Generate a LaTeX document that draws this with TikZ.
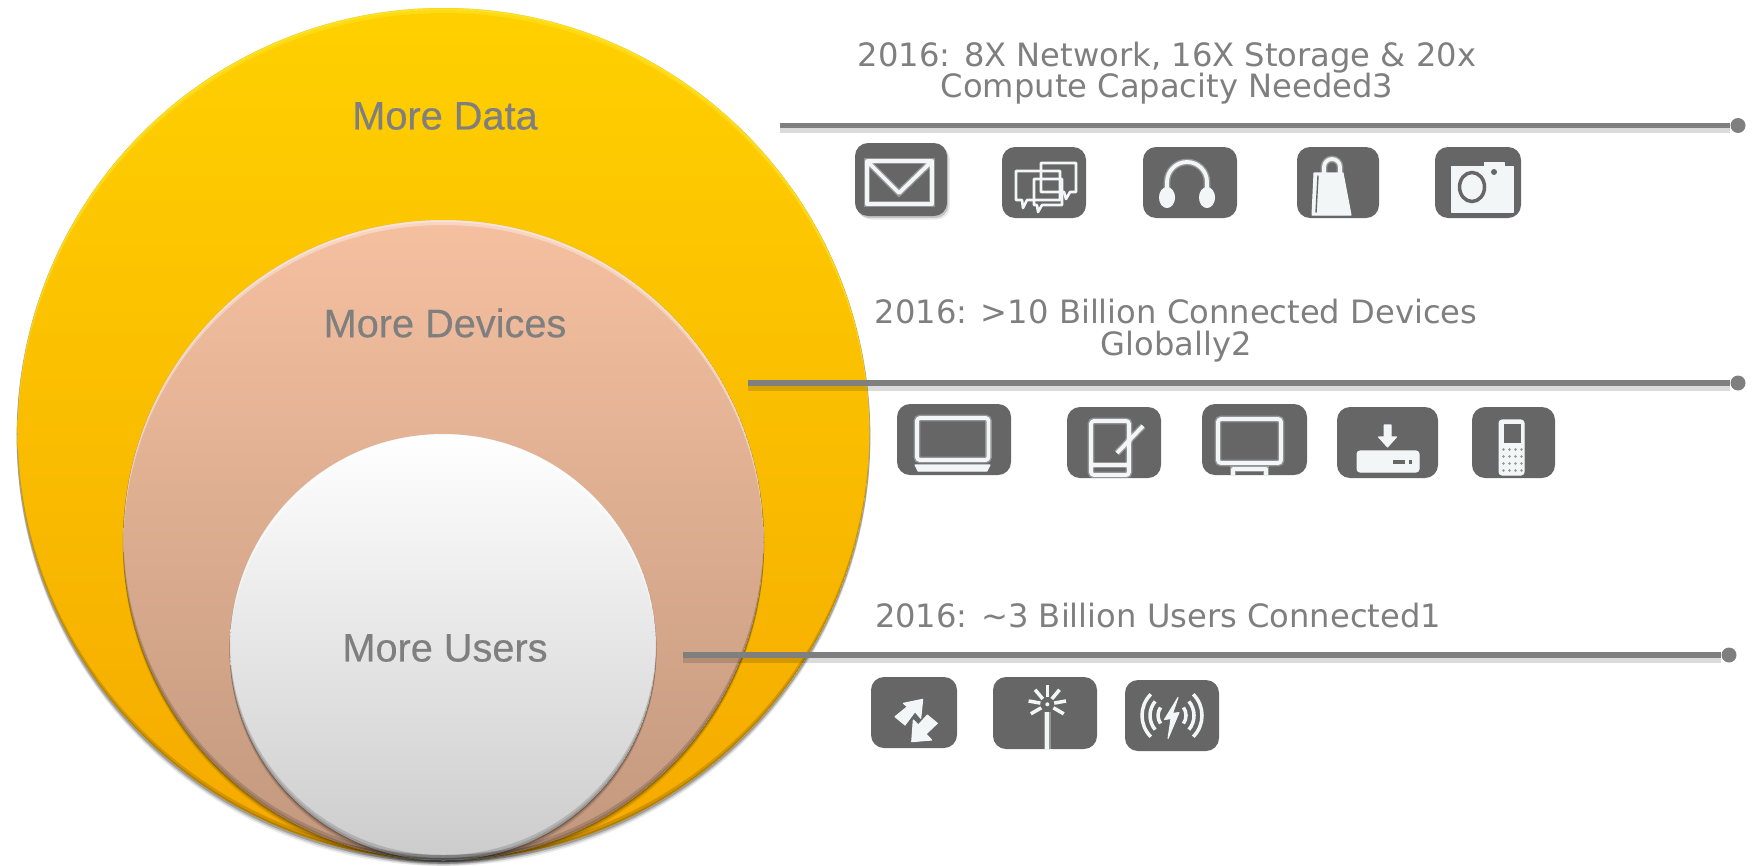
\documentclass[tikz,border=0pt]{standalone}
\usepackage{fontspec}
\setmainfont{DejaVu Sans}
\newfontfamily\labelfont[FakeBold=.4]{Liberation Sans}
\usetikzlibrary{shadows}
\definecolor{labelgray}{RGB}{127,127,127}
\definecolor{tilegray}{RGB}{102,102,102}
\definecolor{iconwhite}{RGB}{243,246,246}
\definecolor{datatop}{RGB}{255,208,0}
\definecolor{databottom}{RGB}{245,170,0}
\definecolor{devicetop}{RGB}{245,192,160}
\definecolor{devicebottom}{RGB}{194,152,126}
\definecolor{datarim}{RGB}{255,240,60}
\tikzset{
    softdisc/.style={circle, inner sep=0pt, minimum size=#1,
        general shadow={shadow yshift=-1.4pt, shadow scale=1.002, fill=black, opacity=.08},
        general shadow={shadow yshift=-.9pt, shadow scale=1.002, fill=black, opacity=.14},
        general shadow={shadow yshift=-.4pt, shadow scale=1.002, fill=black, opacity=.22}},
    biglabel/.style={text=labelgray, font=\labelfont\fontsize{11.3}{13}\selectfont},
    headline/.style={text=labelgray, align=center, font=\fontsize{9.15}{8.9}\selectfont},
    rulewire/.style={draw=labelgray, line width=1.5pt,
        preaction={draw=black, opacity=.14, line width=2.6pt, transform canvas={yshift=-.9pt}}},
    ruledot/.style={circle, fill=labelgray, inner sep=0pt, minimum size=.15cm},
    tile/.style 2 args={fill=tilegray, rounded corners=.13cm, inner sep=0pt,
        minimum width=#1 cm, minimum height=#2 cm},
    glyph/.style={draw=iconwhite, line width=1.1pt, line join=round,
        preaction={draw=white, opacity=.3, line width=1.9pt}},
    fineglyph/.style={draw=iconwhite, line width=.75pt, line join=round},
    solidglyph/.style={fill=iconwhite, draw=iconwhite, line width=.3pt, line join=round}
}
\begin{document}
\begin{tikzpicture}
    \useasboundingbox (0,0) rectangle (17.56,8.65);

    % Nested circles
    \node[softdisc=8.52cm, top color=datatop, bottom color=databottom] (datadisc) at (4.435,4.31) {};
    \node[softdisc=6.40cm, top color=devicetop, bottom color=devicebottom] (devicedisc) at (4.435,3.25) {};
    \node[softdisc=4.26cm, top color=white, bottom color=black!20] (userdisc) at (4.43,2.18) {};

    % Bevel along the rim of each circle
    \foreach \disc/\rad/\rim in {datadisc/4.26/datarim, devicedisc/3.20/white, userdisc/2.13/white}{
        \begin{scope}
            \clip (\disc.center) circle (\rad);
            \foreach \lift in {.02,.05}{
                \fill[\rim, opacity=.35, even odd rule] (\disc.center) circle (\rad) ([yshift=-\lift cm]\disc.center) circle (\rad);
                \fill[black, opacity=.14, even odd rule] (\disc.center) circle (\rad) ([yshift=\lift cm]\disc.center) circle (\rad);
            }
        \end{scope}
    }

    \node[biglabel] (datalabel) at (4.45,7.49) {More Data};
    \node[biglabel] (devicelabel) at (4.45,5.42) {More Devices};
    \node[biglabel] (userlabel) at (4.45,2.17) {More Users};

    % Headlines
    \node[headline] (datatext) at (11.67,7.92) {2016: 8X Network, 16X Storage \& 20x\\Compute Capacity Needed3};
    \node[headline] (devicetext) at (11.76,5.345) {2016: >10 Billion Connected Devices\\Globally2};
    \node[headline] (usertext) at (11.58,2.50) {2016: \textasciitilde 3 Billion Users Connected1};

    % Rules from the circles
    \coordinate (datastart) at (7.80,7.395);
    \coordinate (devicestart) at (7.48,4.82);
    \coordinate (userstart) at (6.83,2.10);
    \node[ruledot] (dataend) at (17.38,7.395) {};
    \node[ruledot] (deviceend) at (17.38,4.82) {};
    \node[ruledot] (userend) at (17.29,2.10) {};
    \draw[rulewire] (datastart) -- (dataend);
    \draw[rulewire] (devicestart) -- (deviceend);
    \draw[rulewire] (userstart) -- (userend);

    % Top row of tiles
    \node[tile={.92}{.73},
        general shadow={shadow xshift=.8pt, shadow yshift=-1pt, fill=black, opacity=.08},
        general shadow={shadow xshift=.4pt, shadow yshift=-.6pt, fill=black, opacity=.16}] (mail) at (9.01,6.855) {};
    \node[tile={.84}{.71}] (chat) at (10.44,6.825) {};
    \node[tile={.94}{.71}] (phones) at (11.90,6.825) {};
    \node[tile={.82}{.71}] (bag) at (13.38,6.825) {};
    \node[tile={.86}{.71}] (camera) at (14.78,6.825) {};

    \begin{scope}[shift={(mail.center)}]
        \draw[glyph] (-.34,.185) rectangle (.31,-.245);
        \draw[glyph] (-.34,.185) -- (-.02,-.135) -- (.31,.185);
    \end{scope}
    \begin{scope}[shift={(chat.center)}]
        \draw[fineglyph] (-.28,.115) -- (.16,.115) -- (.16,-.175) -- (-.17,-.175) -- (-.21,-.255) -- (-.22,-.175) -- (-.28,-.175) -- cycle;
        \draw[fineglyph] (-.03,.195) -- (.32,.195) -- (.32,-.095) -- (.26,-.095) -- (.22,-.165) -- (.20,-.095) -- (-.03,-.095) -- cycle;
        \draw[fineglyph] (-.10,.035) -- (.18,.035) -- (.18,-.225) -- (-.02,-.225) -- (-.06,-.295) -- (-.07,-.225) -- (-.10,-.225) -- cycle;
    \end{scope}
    \begin{scope}[shift={(phones.center)}]
        \draw[glyph] (-.23,-.10) -- (-.23,.005) arc (180:0:.20) -- (.17,-.10);
        \fill[solidglyph] (-.23,-.15) ellipse (.075 and .10);
        \fill[solidglyph] (.17,-.15) ellipse (.075 and .10);
    \end{scope}
    \begin{scope}[shift={(bag.center)}]
        \draw[glyph] (-.14,.095) -- (-.14,.155) arc (180:0:.08) -- (.02,.095);
        \fill[solidglyph] (-.24,.095) -- (.05,.095) -- (.13,-.325) -- (-.26,-.325) -- cycle;
        \draw[tilegray, line width=.4pt] (-.20,.07) -- (-.22,-.30);
    \end{scope}
    \begin{scope}[shift={(camera.center)}]
        \fill[solidglyph] (-.27,.155) -- (.06,.155) -- (.06,.195) -- (.26,.195) -- (.26,.155) -- (.35,.155) -- (.35,-.295) -- (-.27,-.295) -- cycle;
        \draw[tilegray, line width=1pt] (-.06,-.045) ellipse (.125 and .145);
        \fill[tilegray] (.16,.105) circle (.03);
    \end{scope}

    % Middle row of tiles
    \node[tile={1.14}{.71}] (laptop) at (9.54,4.255) {};
    \node[tile={.94}{.71}] (tablet) at (11.14,4.225) {};
    \node[tile={1.05}{.71}] (screen) at (12.545,4.255) {};
    \node[tile={1.01}{.71}] (settop) at (13.875,4.225) {};
    \node[tile={.83}{.71}] (handset) at (15.135,4.225) {};

    \begin{scope}[shift={(laptop.center)}]
        \draw[glyph, rounded corners=.03cm] (-.37,.215) rectangle (.345,-.205);
        \fill[solidglyph] (-.39,-.255) -- (.36,-.255) -- (.33,-.315) -- (-.36,-.315) -- cycle;
    \end{scope}
    \begin{scope}[shift={(tablet.center)}]
        \draw[glyph, rounded corners=.03cm] (-.23,.215) rectangle (.15,-.325);
        \draw[glyph] (-.23,-.225) -- (.15,-.225);
        \draw[glyph] (.03,-.105) -- (.29,.165);
    \end{scope}
    \begin{scope}[shift={(screen.center)}]
        \draw[glyph, rounded corners=.03cm] (-.365,.205) rectangle (.265,-.235);
        \draw[glyph] (-.215,-.355) -- (-.215,-.295) -- (.115,-.295) -- (.115,-.355);
    \end{scope}
    \begin{scope}[shift={(settop.center)}]
        \fill[solidglyph, rounded corners=.03cm] (-.305,-.085) rectangle (.315,-.295);
        \fill[tilegray] (.055,-.215) rectangle (.17,-.175);
        \fill[tilegray] (.21,-.215) rectangle (.24,-.175);
        \fill[solidglyph] (-.035,.175) -- (.035,.175) -- (.035,.055) -- (.09,.055) -- (0,-.045) -- (-.09,.055) -- (-.035,.055) -- cycle;
    \end{scope}
    \begin{scope}[shift={(handset.center)}]
        \fill[solidglyph, rounded corners=.03cm] (-.145,.225) rectangle (.105,-.325);
        \fill[tilegray] (-.095,.185) rectangle (.075,-.005);
        \foreach \row in {0,...,3}
            \foreach \col in {0,...,3}
                \fill[tilegray!70] (-.10+\col*.06,-.07-\row*.07) circle (.013);
    \end{scope}

    % Bottom row of tiles
    \node[tile={.86}{.71}] (swap) at (9.14,1.525) {};
    \node[tile={1.04}{.72}] (beam) at (10.45,1.52) {};
    \node[tile={.94}{.71}] (radio) at (11.72,1.495) {};

    \begin{scope}[shift={(swap.center)}]
        \fill[solidglyph] (-.107,.092) -- (.087,.132) -- (.067,-.058) -- (.01,.009) -- (-.09,-.125) -- (-.19,-.042) -- (-.067,.058) -- cycle;
        \fill[solidglyph] (.233,-.108) -- (.133,-.025) -- (.043,-.125) -- (-.007,-.075) -- (-.023,-.292) -- (.177,-.275) -- (.12,-.215) -- cycle;
    \end{scope}
    \begin{scope}[shift={(beam.center)}]
        \draw[glyph] (.023,.013) -- (.023,-.36);
        \foreach \ang in {90,50,130,10,170,-30,-150}
            \draw[fineglyph, line width=1pt] ([shift={(\ang:.07)}].023,.087) -- ([shift={(\ang:.19)}].023,.087);
        \fill[iconwhite] (.023,.087) circle (.02);
    \end{scope}
    \begin{scope}[shift={(radio.center)}]
        \fill[solidglyph] (.06,.18) -- (-.075,-.04) -- (-.01,-.03) -- (-.04,-.23) -- (.07,.03) -- (.005,.02) -- cycle;
        \foreach \rad/\ang in {.14/35,.22/40,.30/45}{
            \draw[fineglyph, line width=1pt] (-\ang:\rad) arc (-\ang:\ang:\rad);
            \draw[fineglyph, line width=1pt] (180-\ang:\rad) arc (180-\ang:180+\ang:\rad);
        }
    \end{scope}
\end{tikzpicture}
\end{document}
